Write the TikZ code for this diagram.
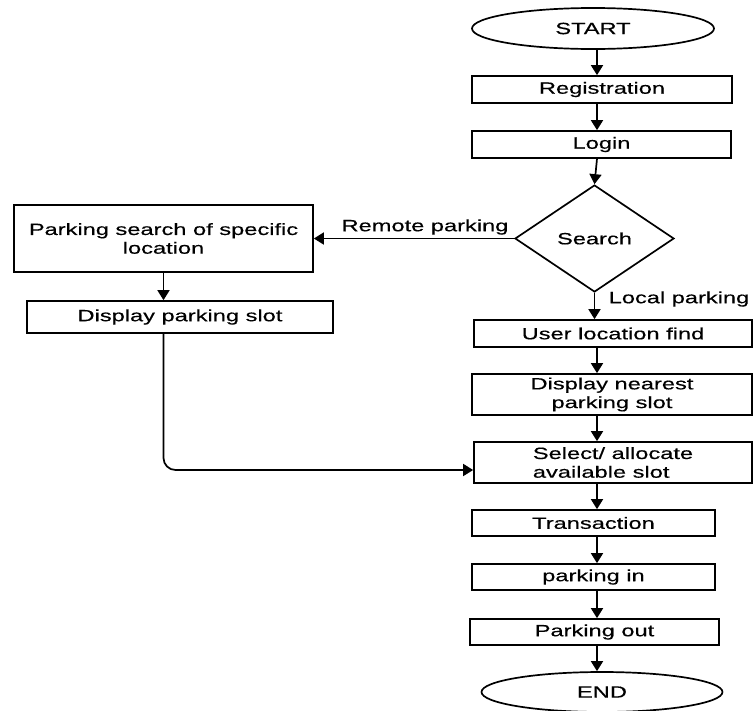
\documentclass[tikz,border=0pt]{standalone}
\usepackage{fontspec}
\setmainfont{Liberation Sans}[FakeStretch=1.45,FakeBold=0.4]
\usetikzlibrary{shapes.geometric,arrows.meta}
\tikzset{
  box/.style={draw, rectangle, line width=1.7pt, inner sep=0pt, align=center},
  oval/.style={draw, ellipse, line width=1.7pt, inner sep=0pt},
  choice/.style={draw, diamond, line width=1.7pt, inner sep=0pt},
  flow/.style={-{Triangle[width=12pt,length=10pt]}, line width=1.7pt},
}
\begin{document}
\begin{tikzpicture}[x=1pt, y=-1pt, font=\fontsize{16.3}{18.7}\selectfont]
      \useasboundingbox (0,0) rectangle (755,710);
      \draw
        (593,28.5) node[oval, minimum width=242pt, minimum height=41pt] (start){START}
        (602,89.5) node[box, minimum width=260pt, minimum height=27pt] (reg){Registration}
        (601.5,144.5) node[box, minimum width=259pt, minimum height=27pt] (login){Login}
        (594.5,238.5) node[choice, minimum width=159pt, minimum height=107pt] (search){Search}
        (163.5,238.5) node[box, minimum width=299pt, minimum height=67pt] (lsearch){Parking search of specific\\location}
        (180,317) node[box, minimum width=306pt, minimum height=32pt] (slot){Display parking slot}
        (613,333.5) node[box, minimum width=278pt, minimum height=27pt] (user){User location find}
        (612,394.5) node[box, minimum width=280pt, minimum height=41pt] (near){Display nearest\\parking slot}
        (613,462.5) node[box, align=left, minimum width=278pt, minimum height=41pt] (alloc){Select/ allocate\\available slot}
        (593.5,523) node[box, minimum width=243pt, minimum height=26pt] (pay){Transaction}
        (593.5,577) node[box, minimum width=243pt, minimum height=26pt] (in){parking in}
        (594.5,632) node[box, minimum width=249pt, minimum height=26pt] (out){Parking out}
        (602,692) node[oval, minimum width=241pt, minimum height=40pt] (stop){END}
        (425,227) node (remote){Remote parking}
        (679,299) node (local){Local parking};
      \coordinate (axis) at (597,0);
      \begin{scope}[flow]
        \draw (axis |- start.south) to (axis |- reg.north);
        \draw (axis |- reg.south) to (axis |- login.north);
        \draw (axis |- login.south) to (search.north);
        \draw (search.west) to (lsearch.east);
        \draw (lsearch.south) to (lsearch.south |- slot.north);
        \draw (search.south) to (search.south |- user.north);
        \draw (axis |- user.south) to (axis |- near.north);
        \draw (axis |- near.south) to (axis |- alloc.north);
        \draw[rounded corners=12pt] (lsearch.south |- slot.south) |- ([yshift=-7.5pt]alloc.west);
        \draw (axis |- alloc.south) to (axis |- pay.north);
        \draw (axis |- pay.south) to (axis |- in.north);
        \draw (axis |- in.south) to (axis |- out.north);
        \draw (axis |- out.south) to (axis |- stop.north);
      \end{scope}
    \end{tikzpicture}
\end{document}
